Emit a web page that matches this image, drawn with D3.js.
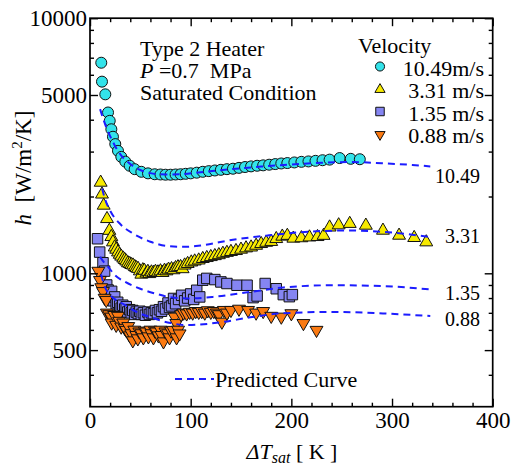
<!DOCTYPE html>
<html><head><meta charset="utf-8">
<script src="https://cdn.jsdelivr.net/npm/d3@7"></script>
<style>
body{margin:0;background:#fff}
svg{display:block}
text{font-family:"Liberation Serif","Times New Roman",serif;fill:#000}
</style>
</head><body>
<svg id="c" width="513" height="466"></svg>
<script>
// ---------- data ----------
const seriesNames = ["10.49m/s", "3.31 m/s", "1.35 m/s", "0.88 m/s"];
const curveLabels = ["10.49", "3.31", "1.35", "0.88"];
const xTicks = [0, 100, 200, 300, 400];
const yTicks = [500, 1000, 5000, 10000];

const v1049 = [[11.2,6690],[11.9,5640],[15.2,5030],[17.9,4270],[19.6,3960],[21.2,3670],[22.8,3430],[25.1,3210],[27.8,3020],[31.1,2860],[35.1,2740],[39.4,2640],[44.4,2560],[51,2500],[57.6,2465],[64.3,2445],[70,2440],[75,2435],[80,2435],[85,2440],[90,2445],[95,2455],[100,2465],[106,2480],[112,2500],[118,2515],[124,2530],[130,2545],[136,2560],[142,2570],[148,2590],[154,2610],[160,2625],[166,2640],[172,2650],[178,2665],[184,2680],[190,2695],[196,2705],[203,2720],[210,2735],[217,2745],[224,2760],[231,2775],[238,2790],[248,2830],[259,2810],[268,2800]];

const v331 = [[10.6,2270],[11.9,2040],[13.6,1845],[16.9,1635],[19.2,1470],[21.2,1390],[22.8,1325],[24.5,1265],[26,1240],[27.8,1210],[29.5,1185],[31,1165],[33,1145],[34.5,1130],[36,1115],[37.7,1097],[39.5,1090],[41,1080],[42.7,1075],[44.5,1060],[46,1050],[47.7,1043],[49.5,1020],[51,990],[52.5,1030],[54,1025],[56,1000],[57.5,1015],[59,995],[61,1010],[63,1005],[65,1015],[67.5,1010],[70,1020],[72,1005],[74,1025],[76,1020],[78,1035],[81,1040],[83,1030],[85,1050],[87.4,1058],[90,1060],[92,1040],[94,1075],[97,1090],[100.6,1105],[104,1115],[108,1125],[112,1140],[116,1150],[120,1160],[124,1170],[128,1180],[132,1195],[136,1205],[140,1215],[145,1225],[150,1240],[155,1255],[160,1265],[165,1285],[170,1305],[175,1320],[180,1330],[185,1365],[191,1395],[196,1405],[202,1370],[210,1375],[218,1385],[226,1390],[232,1405],[238,1515],[247,1545],[258,1565],[274,1540],[291,1472],[307,1407],[322,1378],[334,1325]];

const v135 = [[7.5,1366],[9.6,1211],[12.9,1100],[14.5,1020],[16.6,900],[18,860],[20,835],[21.5,850],[23.2,780],[24.5,808],[26,760],[27.5,770],[29.5,745],[31,730],[32.5,750],[34.5,725],[36,740],[37.5,705],[39.4,720],[41,700],[42.5,715],[44.5,690],[46,705],[48,695],[49.5,710],[51,690],[53,700],[55,685],[57.5,705],[59,690],[61,700],[63,695],[65,715],[67,700],[69,720],[71,710],[73,740],[75,725],[77.5,765],[79,735],[81,745],[83,797],[85,760],[88,790],[91,820],[94,780],[97,800],[100,830],[103,790],[106,858],[109,808],[112,940],[116,955],[124,945],[130,925],[136,912],[146,898],[156,898],[162,803],[166,815],[174,912],[185,870],[192,825],[198,810],[201,825]];

const v088 = [[8.3,1021],[9.9,940],[11.2,880],[12.9,850],[14.5,800],[16.2,785],[16.8,700],[19,690],[21,675],[21.5,640],[24,685],[26,627],[27.8,680],[29,650],[31,617],[33,640],[34.5,610],[36,599],[38,620],[39.5,570],[41,581],[42.5,545],[44,600],[46,572],[47.5,555],[49,590],[51,581],[53,560],[54.5,595],[56,590],[58,565],[60,600],[61,581],[63,560],[64.5,595],[66,590],[68,570],[70,600],[71,572],[73,540],[75,590],[77.5,581],[79,560],[80.5,595],[82.5,599],[84,675],[85.7,637],[86,560],[87.5,600],[89,580],[90.5,690],[93,700],[96,695],[99,705],[102,700],[105,710],[108,705],[111,710],[114,700],[117,715],[120,705],[123,710],[126,700],[128,690],[131,645],[133,717],[136,700],[140,717],[148,725],[157,717],[165,700],[172,710],[180,680],[190,675],[200,696],[212,637],[225,599]];

const pred1049 = [[10,4400],[13,4050],[16,3750],[20,3450],[25,3150],[30,2930],[40,2680],[50,2540],[60,2470],[75,2440],[90,2445],[110,2490],[140,2560],[170,2620],[200,2670],[230,2710],[260,2730],[290,2700],[320,2660],[338,2625]];
const pred331 = [[12,2150],[15,1950],[20,1760],[30,1560],[43,1430],[60,1330],[76,1280],[95,1270],[110,1285],[142,1354],[175,1405],[210,1450],[258,1472],[290,1455],[338,1387]];
const pred135 = [[10,1160],[15,1090],[18,1060],[24,990],[35,925],[50,870],[65,833],[80,805],[97,797],[122,808],[159,845],[192,880],[242,898],[291,891],[338,864]];
const pred088 = [[11,990],[15,880],[20,820],[25,790],[35,750],[45,710],[64,665],[80,638],[97,627],[129,642],[159,672],[189,696],[242,706],[291,696],[338,680]];

// ---------- drawing ----------
const svg = d3.select("#c");
const L = 90, R = 492.7, T = 18.2, B = 406.7;
const x = d3.scaleLinear().domain([0, 400]).range([L, R]);
const y = d3.scaleLog().domain([300, 10000]).range([B, T]);

const styles = [
  {sym: d3.symbolCircle, size: 95, rot: 0, fill: "#33e3ea"},
  {sym: d3.symbolTriangle, size: 72, rot: 0, fill: "#f7ea00"},
  {sym: d3.symbolSquare, size: 110, rot: 0, fill: "#8585f2"},
  {sym: d3.symbolTriangle, size: 72, rot: 180, fill: "#fb7a12"}
];
const allData = [v1049, v331, v135, v088];
const allPred = [pred1049, pred331, pred135, pred088];

// points
allData.forEach((data, i) => {
  const s = styles[i];
  const path = d3.symbol().type(s.sym).size(s.size)();
  svg.append("g").selectAll("path").data(data).join("path")
    .attr("d", path)
    .attr("transform", d => `translate(${x(d[0])},${y(d[1])}) rotate(${s.rot})`)
    .attr("fill", s.fill).attr("stroke", "#111").attr("stroke-width", 1);
});

// predicted curves
const line = d3.line().x(d => x(d[0])).y(d => y(d[1])).curve(d3.curveMonotoneX);
allPred.forEach(p => {
  svg.append("path").attr("d", line(p)).attr("fill", "none")
    .attr("stroke", "#1c1cff").attr("stroke-width", 2).attr("stroke-dasharray", "7,5");
});

// axes
const xMinor = d3.range(20, 400, 20).filter(v => v % 100 !== 0);
const yMinor = [400, 600, 700, 800, 900, 2000, 3000, 4000, 6000, 7000, 8000, 9000];
function styleAxis(g){ g.attr("font-family", null); g.select(".domain").remove(); g.selectAll("line").attr("stroke","#000").attr("stroke-width",1.4); g.selectAll("text").style("font-family",'"Liberation Serif",serif').style("font-size","23px").attr("fill","#000"); }

svg.append("g").attr("transform", `translate(0,${B})`)
  .call(d3.axisBottom(x).tickValues(xTicks).tickSize(-8).tickPadding(5).tickFormat(d3.format("d"))).call(styleAxis);
svg.append("g").attr("transform", `translate(0,${B})`)
  .call(d3.axisBottom(x).tickValues(xMinor).tickSize(-4).tickFormat("")).call(styleAxis);
svg.append("g").attr("transform", `translate(0,${T})`)
  .call(d3.axisTop(x).tickValues(xTicks).tickSize(-8).tickFormat("")).call(styleAxis);
svg.append("g").attr("transform", `translate(0,${T})`)
  .call(d3.axisTop(x).tickValues(xMinor).tickSize(-4).tickFormat("")).call(styleAxis);

svg.append("g").attr("transform", `translate(${L},0)`)
  .call(d3.axisLeft(y).tickValues(yTicks).tickSize(-8).tickPadding(3).tickFormat(d3.format("d"))).call(styleAxis);
svg.append("g").attr("transform", `translate(${L},0)`)
  .call(d3.axisLeft(y).tickValues(yMinor).tickSize(-4).tickFormat("")).call(styleAxis);
svg.append("g").attr("transform", `translate(${R},0)`)
  .call(d3.axisRight(y).tickValues(yTicks).tickSize(-8).tickFormat("")).call(styleAxis);
svg.append("g").attr("transform", `translate(${R},0)`)
  .call(d3.axisRight(y).tickValues(yMinor).tickSize(-4).tickFormat("")).call(styleAxis);

// frame
svg.append("rect").attr("x", L).attr("y", T).attr("width", R - L).attr("height", B - T)
  .attr("fill", "none").attr("stroke", "#000").attr("stroke-width", 1.7);

// annotation
const ann = svg.append("g").style("font-size", "22px");
ann.append("text").attr("x", 140).attr("y", 56).text("Type 2 Heater");
const pt = ann.append("text").attr("x", 140).attr("y", 78).style("white-space", "pre");
pt.append("tspan").style("font-style", "italic").text("P");
pt.append("tspan").text(" =0.7  MPa");
ann.append("text").attr("x", 140).attr("y", 100).text("Saturated Condition");

// legend
const leg = svg.append("g").style("font-size", "22px");
leg.append("text").attr("x", 358).attr("y", 53).text("Velocity");
const legY = [75.5, 98, 120.5, 142.5];
const legMarkY = [66.5, 89.5, 111.5, 134.5];
const legSizes = [65, 45, 72, 45];
seriesNames.forEach((n, i) => {
  const s = styles[i];
  leg.append("path").attr("d", d3.symbol().type(s.sym).size(legSizes[i])())
    .attr("transform", `translate(380,${legMarkY[i]}) rotate(${s.rot})`)
    .attr("fill", s.fill).attr("stroke", "#111").attr("stroke-width", 1);
  leg.append("text").attr("x", 484).attr("y", legY[i]).attr("text-anchor", "end").text(n);
});

// curve labels
const labY = [182.5, 242.5, 300, 326];
curveLabels.forEach((t, i) => {
  svg.append("text").attr("x", 480).attr("y", labY[i]).attr("text-anchor", "end")
    .style("font-size", "20px").text(t);
});

// predicted curve key
svg.append("line").attr("x1", 175).attr("x2", 214).attr("y1", 379).attr("y2", 379)
  .attr("stroke", "#1c1cff").attr("stroke-width", 2).attr("stroke-dasharray", "7,5");
svg.append("text").attr("x", 215).attr("y", 387).style("font-size", "22px").text("Predicted Curve");

// axis titles
const yt = svg.append("text").attr("transform", "translate(31,168) rotate(-90)")
  .attr("text-anchor", "middle").style("font-size", "23px").style("white-space", "pre");
yt.append("tspan").style("font-style", "italic").text("h");
yt.append("tspan").text("  [W/m");
yt.append("tspan").attr("dy", -9).style("font-size", "15px").text("2");
yt.append("tspan").attr("dy", 9).text("/K]");

const xt = svg.append("text").attr("x", 292).attr("y", 459).attr("text-anchor", "middle")
  .style("font-size", "22px").style("white-space", "pre");
xt.append("tspan").style("font-style", "italic").text("ΔT");
xt.append("tspan").style("font-style", "italic").style("font-size", "16px").attr("dy", 4).text("sat");
xt.append("tspan").attr("dy", -4).text(" [ K ]");
</script>
</body></html>
